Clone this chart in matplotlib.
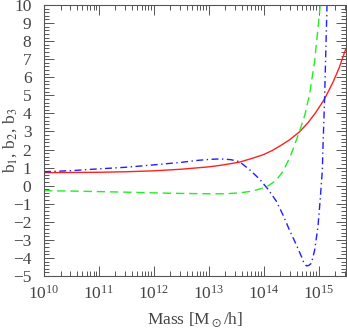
"""Halo bias b1, b2, b3 versus mass."""

import matplotlib
matplotlib.use("Agg")
import matplotlib.pyplot as plt
from matplotlib.ticker import MultipleLocator, LogLocator, NullFormatter
import numpy as np

# log10(M) and bias values
b1_logm = [10.0, 10.5, 11.0, 11.5, 12.0, 12.5, 13.0, 13.25, 13.56, 13.8, 14.0,
           14.16, 14.3, 14.47, 14.65, 14.8, 14.95, 15.11, 15.26, 15.38, 15.5]
b1_vals = [0.72, 0.73, 0.74, 0.77, 0.82, 0.91, 1.04, 1.14, 1.3, 1.52, 1.72,
           1.95, 2.2, 2.53, 2.97, 3.45, 4.05, 4.8, 5.7, 6.55, 7.6]

b2_logm = [10.0, 10.5, 11.0, 11.5, 12.0, 12.5, 13.0, 13.3, 13.56, 13.8, 14.0,
           14.08, 14.23, 14.35, 14.47, 14.53, 14.65, 14.75, 14.84, 14.93, 15.02,
           15.05]
b2_vals = [-0.28, -0.3, -0.33, -0.36, -0.4, -0.43, -0.45, -0.45, -0.40, -0.3, -0.12,
           -0.02, 0.3, 0.78, 1.51, 1.97, 2.97, 3.9, 5.1, 6.9, 9.6,
           11.0]

b3_logm = [10.0, 10.5, 10.84, 11.5, 12.0, 12.5, 12.8, 13.0, 13.2, 13.4, 13.56,
           13.75, 13.93, 14.08, 14.23, 14.35, 14.47, 14.6, 14.69, 14.73, 14.78,
           14.82, 14.87, 14.93, 14.99, 15.03, 15.07, 15.08, 15.11, 15.155, 15.17]
b3_vals = [0.77, 0.83, 0.9, 1.02, 1.15, 1.29, 1.4, 1.45, 1.48, 1.44, 1.33,
           0.87, 0.35, -0.2, -0.85, -1.6, -2.45, -3.3, -3.93, -4.25, -4.44,
           -4.42, -4.3, -3.57, -2.27, -0.8, 0.87, 2.0, 4.74, 10.0, 12.0]

plt.rcParams["font.family"] = "Liberation Serif"
plt.rcParams["mathtext.fontset"] = "stix"

GREY = "#555555"
TEXT = "#444444"

fig = plt.figure(figsize=(3.47, 3.32), dpi=100)
ax = fig.add_axes([0.1268, 0.1687, 0.8702, 0.8163])

ax.plot(10 ** np.array(b1_logm), b1_vals, color="#ff2020", lw=1.0, ls="-")
ax.plot(10 ** np.array(b2_logm), b2_vals, color="#20ee20", lw=1.0,
        dashes=(6, 3.5))
ax.plot(10 ** np.array(b3_logm), b3_vals, color="#2020ff", lw=1.0,
        dashes=(5, 2.5, 1, 2.5))

ax.set_xscale("log")
ax.set_xlim(1e10, 10 ** 15.5)
ax.set_ylim(-5, 10)

ax.xaxis.set_major_locator(LogLocator(base=10, numticks=10))
ax.xaxis.set_minor_locator(LogLocator(base=10, subs=np.arange(2, 10), numticks=20))
ax.xaxis.set_minor_formatter(NullFormatter())
ax.yaxis.set_major_locator(MultipleLocator(1))
ax.yaxis.set_minor_locator(MultipleLocator(0.2))

ax.tick_params(which="both", direction="in", top=True, right=True,
               color=GREY, labelcolor=TEXT, labelsize=12.5, width=0.7)
ax.tick_params(which="major", length=7)
ax.tick_params(which="minor", length=3.5)
ax.tick_params(axis="x", pad=6)
ax.tick_params(axis="y", pad=9)

for sp in ax.spines.values():
    sp.set_color(GREY)
    sp.set_linewidth(0.8)

ax.set_xlabel(r"Mass [M$_\odot$/h]", color=TEXT, fontsize=12.5)
ax.xaxis.set_label_coords(0.5, -0.162)
ax.xaxis.label.set_va("center")
ax.set_ylabel(r"b$_1$, b$_2$, b$_3$", color=TEXT, fontsize=12.5)
ax.yaxis.set_label_coords(-0.113, 0.5)
ax.yaxis.label.set_va("center")

fig.savefig("out.png", dpi=100)
